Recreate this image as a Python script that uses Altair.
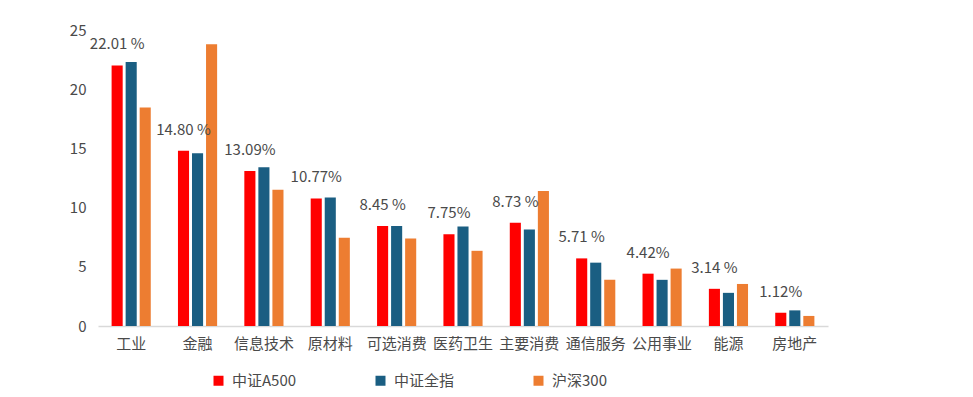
import altair as alt
import pandas as pd

categories = ["工业", "金融", "信息技术", "原材料", "可选消费", "医药卫生", "主要消费", "通信服务", "公用事业", "能源", "房地产"]
series = ["中证A500", "中证全指", "沪深300"]
a500 = [22.01, 14.80, 13.09, 10.77, 8.45, 7.75, 8.73, 5.71, 4.42, 3.14, 1.12]
quanzhi = [22.3, 14.6, 13.4, 10.85, 8.45, 8.4, 8.15, 5.35, 3.9, 2.8, 1.32]
hs300 = [18.45, 23.8, 11.5, 7.45, 7.4, 6.35, 11.4, 3.9, 4.85, 3.55, 0.85]
label_texts = ["22.01 %", "14.80 %", "13.09%", "10.77%", "8.45 %", "7.75%", "8.73 %", "5.71 %", "4.42%", "3.14 %", "1.12%"]
colors = ["#FF0000", "#1A5E82", "#ED7D31"]

rows = []
for i, c in enumerate(categories):
    for s, vals in zip(series, [a500, quanzhi, hs300]):
        rows.append({"cat": c, "series": s, "value": vals[i],
                     "label": label_texts[i] if s == series[0] else ""})
df = pd.DataFrame(rows)

FONT = "Noto Sans CJK SC"

x = alt.X("cat:N", sort=categories,
          scale=alt.Scale(paddingInner=0.41, paddingOuter=0.205),
          axis=alt.Axis(title=None, labelAngle=0, domain=True, domainColor="#d9d9d9",
                        domainWidth=1.5, ticks=False, labelFontSize=15,
                        labelColor="#4a4a4a", labelPadding=10, labelFont=FONT))
y = alt.Y("value:Q", scale=alt.Scale(domain=[0, 25], nice=False),
          axis=alt.Axis(title=None, values=[0, 5, 10, 15, 20, 25], grid=False,
                        domain=False, ticks=False, labelPadding=12, labelFontSize=15,
                        labelColor="#4a4a4a", labelFont=FONT))
xo = alt.XOffset("series:N", sort=series,
                 scale=alt.Scale(domain=series, paddingInner=0.21, paddingOuter=0))

bars = alt.Chart(df).mark_bar().encode(
    x=x, y=y, xOffset=xo,
    color=alt.Color("series:N", sort=series,
                    scale=alt.Scale(domain=series, range=colors),
                    legend=alt.Legend(title=None, orient="none", direction="horizontal",
                                      legendX=113, legendY=343, symbolType="square",
                                      symbolSize=100, symbolStrokeWidth=0,
                                      labelFontSize=15, labelColor="#4a4a4a",
                                      labelFont=FONT, columnPadding=76, labelOffset=6)),
)

labels = alt.Chart(df).transform_filter(
    alt.datum.series == series[0]
).mark_text(baseline="middle", align="center", dy=-21, fontSize=15,
            color="#4a4a4a", font=FONT).encode(
    x=x, y=y, xOffset=xo, text="label:N"
)

chart = alt.layer(bars, labels).properties(
    width=730, height=296,
    autosize=alt.AutoSizeParams(type="none"),
    padding={"left": 90, "top": 22, "right": 130, "bottom": 68},
).configure(font=FONT).configure_view(stroke=None)

chart.save("out.html", embed_options={"renderer": "svg", "actions": False})
